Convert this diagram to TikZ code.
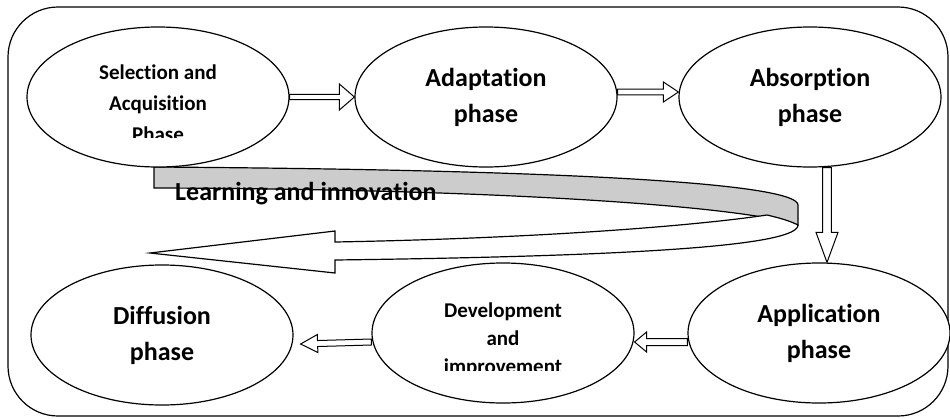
\documentclass[tikz,border=0pt]{standalone}
\usepackage{fontspec}
\setmainfont{Carlito}[Ligatures=NoCommon]
\usetikzlibrary{shapes.geometric,calc}
\tikzset{
  phase/.style={ellipse, draw, fill=white, line width=1.2pt, minimum width=262pt, minimum height=140pt, inner sep=0pt, align=center, font=\bfseries\fontsize{26}{36}\selectfont},
  smalltext/.style={inner sep=0pt, align=center, font=\bfseries\fontsize{21}{#1}\selectfont},
  hollowarrow/.style n args={3}{draw, fill=white, line width=1pt, to path={let \p1=(\tikztostart), \p2=(\tikztotarget), \p3=($(\p2)!#3!(\p1)$) in ($(\p1)!#1!90:(\p2)$) -- ($(\p3)!#1!-90:(\p1)$) -- ($(\p3)!#2!-90:(\p1)$) -- (\p2) -- ($(\p3)!#2!90:(\p1)$) -- ($(\p3)!#1!90:(\p1)$) -- ($(\p1)!#1!-90:(\p2)$) -- cycle}}
}
\begin{document}
\begin{tikzpicture}[x=1pt, y=-1pt]
\useasboundingbox (0,0) rectangle (950,418);
\draw[line width=1.2pt, rounded corners=50pt] (8,7) rectangle (948,416);
\filldraw[fill=gray!40, line width=1.2pt] (154,167) .. controls (600,170) and (798,185) .. (798,205) -- (798,225) .. controls (740,206) and (500,189) .. (154,188) -- cycle;
\filldraw[fill=white, line width=1.2pt] (150,253) -- (335,231) -- (335,242) .. controls (550,238) and (700,225) .. (767,215) .. controls (780,218) and (790,221) .. (798,225) .. controls (798,245) and (650,256) .. (335,260) -- (335,273) -- cycle;
\node[inner sep=0pt, anchor=base west, font=\bfseries\fontsize{26}{30}\selectfont] (learn) at (175,200) {Learning and innovation};
\node[phase] (sel) at (158,97) {};
\node[phase] (ada) at (486,97) {Adaptation\\phase};
\node[phase] (abs) at (810,97) {Absorption\\phase};
\node[phase] (dif) at (162,335) {Diffusion\\phase};
\node[phase] (dev) at (503,333) {};
\node[phase] (app) at (819,333) {Application\\phase};
\begin{scope}
  \clip (30,40) rectangle (290,137);
  \node[smalltext=31] (seltext) at (158,103) {Selection and\\Acquisition\\Phase};
\end{scope}
\begin{scope}
  \clip (380,280) rectangle (630,370);
  \node[smalltext=28] (devtext) at (503,340) {Development\\and\\improvement};
\end{scope}
\draw[hollowarrow={2.6pt}{13pt}{15pt}] (sel.east) to (ada.west);
\draw[hollowarrow={2.8pt}{10pt}{15pt}] ([yshift=5pt]ada.east) to ([yshift=5pt]abs.west);
\draw[hollowarrow={4.3pt}{11pt}{30pt}] ([xshift=17pt]abs.south) to ([xshift=8pt]app.north);
\draw[hollowarrow={3.5pt}{10pt}{12pt}] ([yshift=-9pt]app.west) to ([yshift=-9pt]dev.east);
\draw[hollowarrow={3pt}{9pt}{17pt}] ([yshift=-9pt]dev.west) to ([shift={(7pt,-9pt)}]dif.east);
\end{tikzpicture}
\end{document}
